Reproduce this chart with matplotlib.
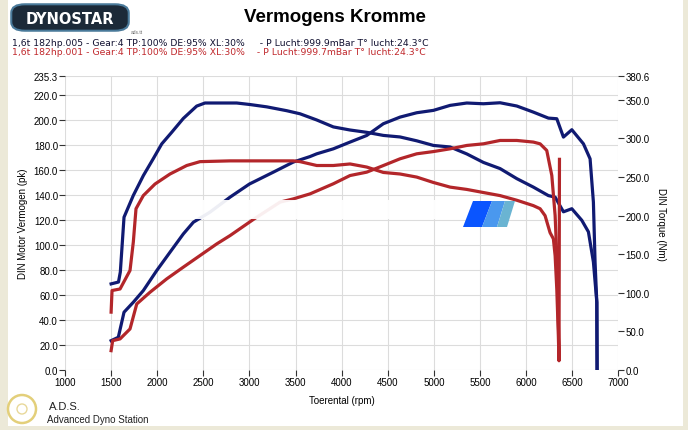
import matplotlib
matplotlib.use("Agg")
import matplotlib.pyplot as plt
from matplotlib.patches import FancyBboxPatch, Rectangle, Polygon, Ellipse

plt.rcParams['font.family'] = ['Liberation Sans', 'DejaVu Sans']

# ---- data ----
blue_power_rpm = [1500, 1578, 1640, 1741, 1849, 1994, 2139, 2283, 2392, 2573, 2790, 3000, 3259, 3476, 3657,
                  3730, 3910, 4091, 4272, 4452, 4633, 4814, 4995, 5176, 5357, 5537, 5718, 5899, 6079,
                  6242, 6333, 6405, 6496, 6622, 6694, 6730, 6748, 6767, 6770]
blue_power_pk = [23.5, 26.2, 46.3, 54.3, 63.6, 79.6, 94.4, 109.0, 118.4, 126.5, 138.5, 149.0, 158.5, 166.6, 171.0,
                 173.2, 177.2, 182.6, 187.9, 197.3, 202.6, 206.1, 208.0, 212.0, 213.9, 213.3, 214.1, 211.5, 206.6,
                 201.8, 201.3, 186.6, 192.5, 181.2, 169.2, 134.5, 86.4, 54.0, 1.0]

blue_torque_rpm = [1500, 1580, 1600, 1640, 1740, 1850, 1958, 2049, 2157, 2283, 2428, 2518, 2790, 2862, 3007,
                   3188, 3405, 3549, 3730, 3910, 4091, 4272, 4452, 4633, 4814, 4995, 5176, 5357, 5537,
                   5718, 5899, 6079, 6242, 6315, 6405, 6496, 6604, 6676, 6730, 6767, 6770]
blue_torque_nm = [111.6, 114.0, 127.0, 198.0, 226.0, 252.0, 274.0, 293.0, 308.0, 326.0, 342.0, 346.0, 346.0, 346.0, 344.0,
                  341.0, 336.0, 332.0, 324.0, 315.0, 311.0, 308.0, 304.0, 302.0, 297.0, 291.0, 289.0, 280.0, 269.0,
                  261.0, 248.0, 237.0, 226.0, 224.0, 205.0, 209.0, 194.0, 179.0, 140.0, 88.0, 1.0]

red_power_rpm = [1500, 1517, 1597, 1705, 1778, 1922, 2103, 2283, 2464, 2645, 2790, 3050, 3332, 3476, 3657,
                 3910, 4091, 4272, 4452, 4633, 4814, 4995, 5176, 5357, 5537, 5718, 5899, 6079, 6152,
                 6224, 6279, 6315, 6333, 6350, 6361]
red_power_pk = [15.5, 23.5, 24.9, 32.9, 52.9, 62.3, 73.0, 82.4, 91.7, 101.0, 107.7, 121.0, 134.5, 137.1, 141.1,
                149.2, 155.8, 158.5, 163.8, 169.2, 173.2, 175.0, 177.2, 179.9, 181.2, 183.9, 183.9, 182.6, 181.2,
                175.9, 155.8, 123.7, 91.7, 38.2, 8.8]

red_torque_rpm = [1500, 1510, 1597, 1705, 1741, 1770, 1849, 1976, 2139, 2320, 2464, 2790, 3476, 3549, 3730,
                  3910, 4091, 4272, 4452, 4633, 4814, 4995, 5176, 5357, 5537, 5718, 5899, 6079, 6152,
                  6206, 6260, 6296, 6315, 6333, 6350, 6357, 6362]
red_torque_nm = [75.0, 103.0, 105.0, 129.0, 166.0, 209.0, 226.0, 241.0, 254.0, 265.0, 270.0, 271.0, 271.0, 270.0, 265.0,
                 265.0, 267.0, 263.0, 256.0, 254.0, 250.0, 243.0, 237.0, 234.0, 230.0, 226.0, 220.0, 213.0, 209.0,
                 200.0, 178.0, 170.0, 148.0, 105.0, 44.0, 12.0, 273.0]

x_ticks = [1000, 1500, 2000, 2500, 3000, 3500, 4000, 4500, 5000, 5500, 6000, 6500, 7000]
pk_ticks = [0, 20, 40, 60, 80, 100, 120, 140, 160, 180, 200, 220, 235.3]
nm_ticks = [0, 50, 100, 150, 200, 250, 300, 350, 380.6]

legend_lines = [
    "1,6t 182hp.005 - Gear:4 TP:100% DE:95% XL:30%     - P Lucht:999.9mBar T\u00b0 lucht:24.3\u00b0C",
    "1,6t 182hp.001 - Gear:4 TP:100% DE:95% XL:30%    - P Lucht:999.7mBar T\u00b0 lucht:24.3\u00b0C",
]

BLUE = "#101a72"
RED = "#b3262a"
W, H = 688, 431

fig = plt.figure(figsize=(6.88, 4.31), dpi=100)
fig.patch.set_facecolor("#ece9d8")

def fx(px):
    return px / W

def fy(py):
    return 1 - py / H

# white panel (behind everything)
fig.patches.append(Rectangle((fx(8), fy(427)), fx(683) - fx(8), fy(0) - fy(427),
                             transform=fig.transFigure, facecolor="white", edgecolor="none", zorder=-10))

ax = fig.add_axes([fx(65), fy(371), fx(618.3) - fx(65), fy(77.3) - fy(371)])
ax.set_facecolor("white")
ax2 = ax.twinx()

ax.plot(blue_torque_rpm, [v * 235.3 / 380.6 for v in blue_torque_nm], color=BLUE, lw=2.3, solid_joinstyle="round", zorder=3)
ax.plot(blue_power_rpm, blue_power_pk, color=BLUE, lw=2.3, solid_joinstyle="round", zorder=3)
ax.plot(red_torque_rpm, [v * 235.3 / 380.6 for v in red_torque_nm], color=RED, lw=2.3, solid_joinstyle="round", zorder=4)
ax.plot(red_power_rpm, red_power_pk, color=RED, lw=2.3, solid_joinstyle="round", zorder=4)

ax.set_xlim(1000, 7000)
ax.set_ylim(0, 235.3)
ax2.set_ylim(0, 380.6)

ax.set_xticks(x_ticks)
ax.set_xticklabels([str(t) for t in x_ticks])
ax.set_yticks(pk_ticks)
ax.set_yticklabels([f"{t:.1f}" for t in pk_ticks])
ax2.set_yticks(nm_ticks)
ax2.set_yticklabels([f"{t:.1f}" for t in nm_ticks])

ax.grid(True, color="#dcdcdc", lw=0.8)
ax.set_axisbelow(True)
for a in (ax, ax2):
    for s in a.spines.values():
        s.set_visible(False)
    a.tick_params(direction="out", length=4, width=0.8, color="#333333", labelsize=7, pad=1)

ax.set_xlabel("Toerental (rpm)", fontsize=7, labelpad=6)
ax.set_ylabel("DIN Motor Vermogen (pk)", fontsize=7, labelpad=4)
ax2.set_ylabel("DIN Torque (Nm)", fontsize=7, rotation=-90, labelpad=12)

# watermark band and logo
fig.patches.append(Rectangle((fx(172), fy(220)), fx(468) - fx(172), fy(201) - fy(220),
                             transform=fig.transFigure, facecolor="white", edgecolor="none", alpha=0.93, zorder=5))
for (b0, b1, t0, t1, col) in [(463, 482, 473, 492, "#0a55ff"), (482, 497, 492, 505, "#4a98ee"),
                              (497, 507, 505, 515, "#6ab4d2")]:
    pts = [(fx(b0), fy(228)), (fx(b1), fy(228)), (fx(t1), fy(202)), (fx(t0), fy(202))]
    fig.patches.append(Polygon(pts, closed=True, transform=fig.transFigure, facecolor=col, edgecolor="none", zorder=6))

# title and legend
fig.text(fx(335), fy(17), "Vermogens Kromme", fontsize=13.5, fontweight="bold", ha="center", va="center")
fig.text(fx(12), fy(44), legend_lines[0], fontsize=6.7, color="#101030", ha="left", va="center",
         family=["DejaVu Sans"])
fig.text(fx(12), fy(52.5), legend_lines[1], fontsize=6.7, color="#c0282c", ha="left", va="center",
         family=["DejaVu Sans"])

# Dynostar logo
fig.patches.append(FancyBboxPatch((fx(14), fy(30)), fx(126) - fx(14), fy(7) - fy(30),
                                  boxstyle="round,pad=0.004,rounding_size=0.02", transform=fig.transFigure,
                                  facecolor="#1c2a38", edgecolor="#4a7a9a", lw=1.5, zorder=2))
fig.text(fx(70), fy(19), "DYNOSTAR", fontsize=10.5, fontweight="bold", color="white",
         ha="center", va="center", family=["DejaVu Sans"], zorder=3)
fig.text(fx(131), fy(32), "ads.tt", fontsize=3.5, color="#666666", ha="left", va="center")

# ADS footer emblem
fig.patches.append(Ellipse((fx(22), fy(410)), fx(28), 28 / H, transform=fig.transFigure, facecolor="none",
                           edgecolor="#e3cf7a", lw=1.8, zorder=2))
fig.patches.append(Ellipse((fx(22), fy(410)), fx(10), 10 / H, transform=fig.transFigure, facecolor="none",
                           edgecolor="#e8d89a", lw=1.0, zorder=2))
fig.text(fx(49), fy(407), "A.D.S.", fontsize=8, color="#222222", ha="left", va="center")
fig.text(fx(47), fy(420), "Advanced Dyno Station", fontsize=7, color="#222222", ha="left", va="center")

fig.savefig("out.png", dpi=100, facecolor=fig.get_facecolor())
